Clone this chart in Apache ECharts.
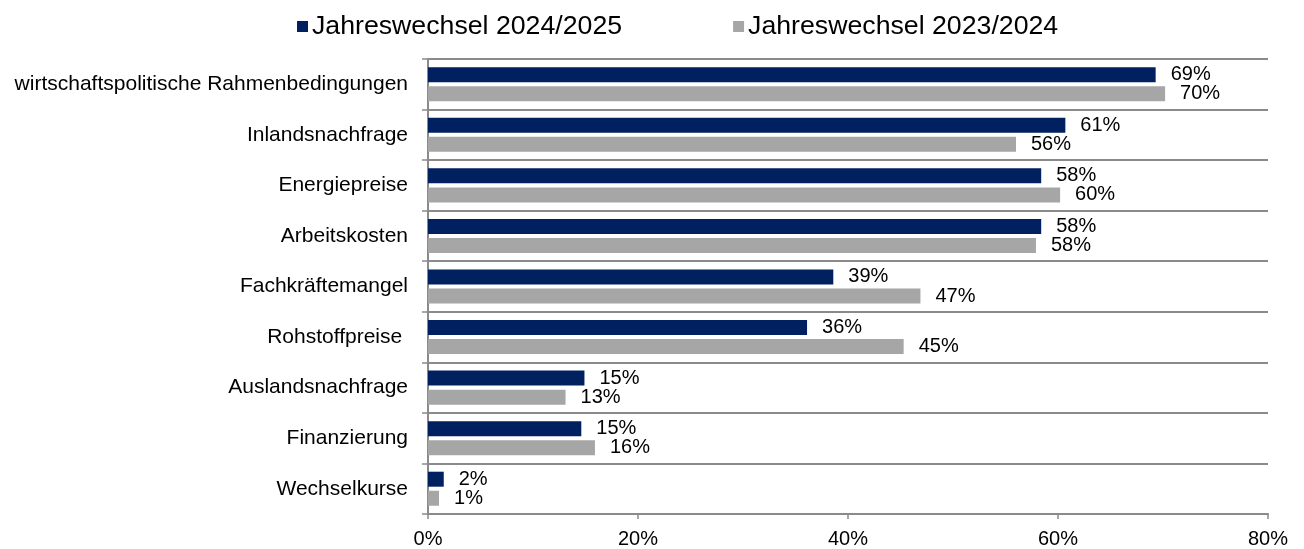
<!DOCTYPE html>
<html>
<head>
<meta charset="utf-8">
<script src="https://cdn.jsdelivr.net/npm/echarts@6/dist/echarts.min.js"></script>
<style>
html,body{margin:0;padding:0;background:#fff;}
#chart{width:1304px;height:549px;}
</style>
</head>
<body>
<div id="chart"></div>
<script>
const categories = ["wirtschaftspolitische Rahmenbedingungen","Inlandsnachfrage","Energiepreise","Arbeitskosten","Fachkräftemangel","Rohstoffpreise ","Auslandsnachfrage","Finanzierung","Wechselkurse"];
const seriesNames = ["Jahreswechsel 2024/2025","Jahreswechsel 2023/2024"];
const values2024_2025 = [69.3, 60.7, 58.4, 58.4, 38.6, 36.1, 14.9, 14.6, 1.5];
const values2023_2024 = [70.2, 56.0, 60.2, 57.9, 46.9, 45.3, 13.1, 15.9, 1.05];
const xTicks = [0, 20, 40, 60, 80];

const FONT = "'Liberation Sans', Arial, sans-serif";
const LINE = '#8a8a8a';
const chart = echarts.init(document.getElementById('chart'));
const labelCfg = {
  show: true, position: 'right', distance: 15,
  color: '#000', fontSize: 20, fontFamily: FONT,
  formatter: p => Math.round(p.value) + '%'
};
chart.setOption({
  animation: false,
  legend: {
    top: 8, left: 292, icon: 'rect', itemWidth: 11, itemHeight: 11, itemGap: 111,
    textStyle: {fontSize: 26.7, fontFamily: FONT, color: '#000', padding: [0,0,0,-1]},
    data: seriesNames
  },
  grid: {left: 428, right: 36, top: 59, bottom: 33, containLabel: false},
  xAxis: {
    type: 'value', min: xTicks[0], max: xTicks[xTicks.length-1], interval: 20,
    axisLine: {show: true, lineStyle: {color: LINE, width: 2}},
    axisTick: {show: true, length: 5, lineStyle: {color: LINE, width: 1.5}},
    splitLine: {show: false},
    axisLabel: {margin: 15, fontSize: 20, fontFamily: FONT, color: '#000', formatter: v => v + '%'}
  },
  yAxis: {
    type: 'category', data: categories, inverse: true,
    axisLine: {show: true, lineStyle: {color: LINE, width: 2}},
    axisTick: {show: true, length: 6, lineStyle: {color: LINE, width: 1.5}},
    splitLine: {show: true, lineStyle: {color: LINE, width: 2}},
    axisLabel: {margin: 20, fontSize: 21, fontFamily: FONT, color: '#000'}
  },
  series: [
    {name: seriesNames[0], type: 'bar', data: values2024_2025, barWidth: 15, barGap: '27%',
     itemStyle: {color: '#002060'}, label: labelCfg},
    {name: seriesNames[1], type: 'bar', data: values2023_2024, barWidth: 15, barGap: '27%',
     itemStyle: {color: '#a6a6a6'}, label: labelCfg}
  ]
});
</script>
</body>
</html>
